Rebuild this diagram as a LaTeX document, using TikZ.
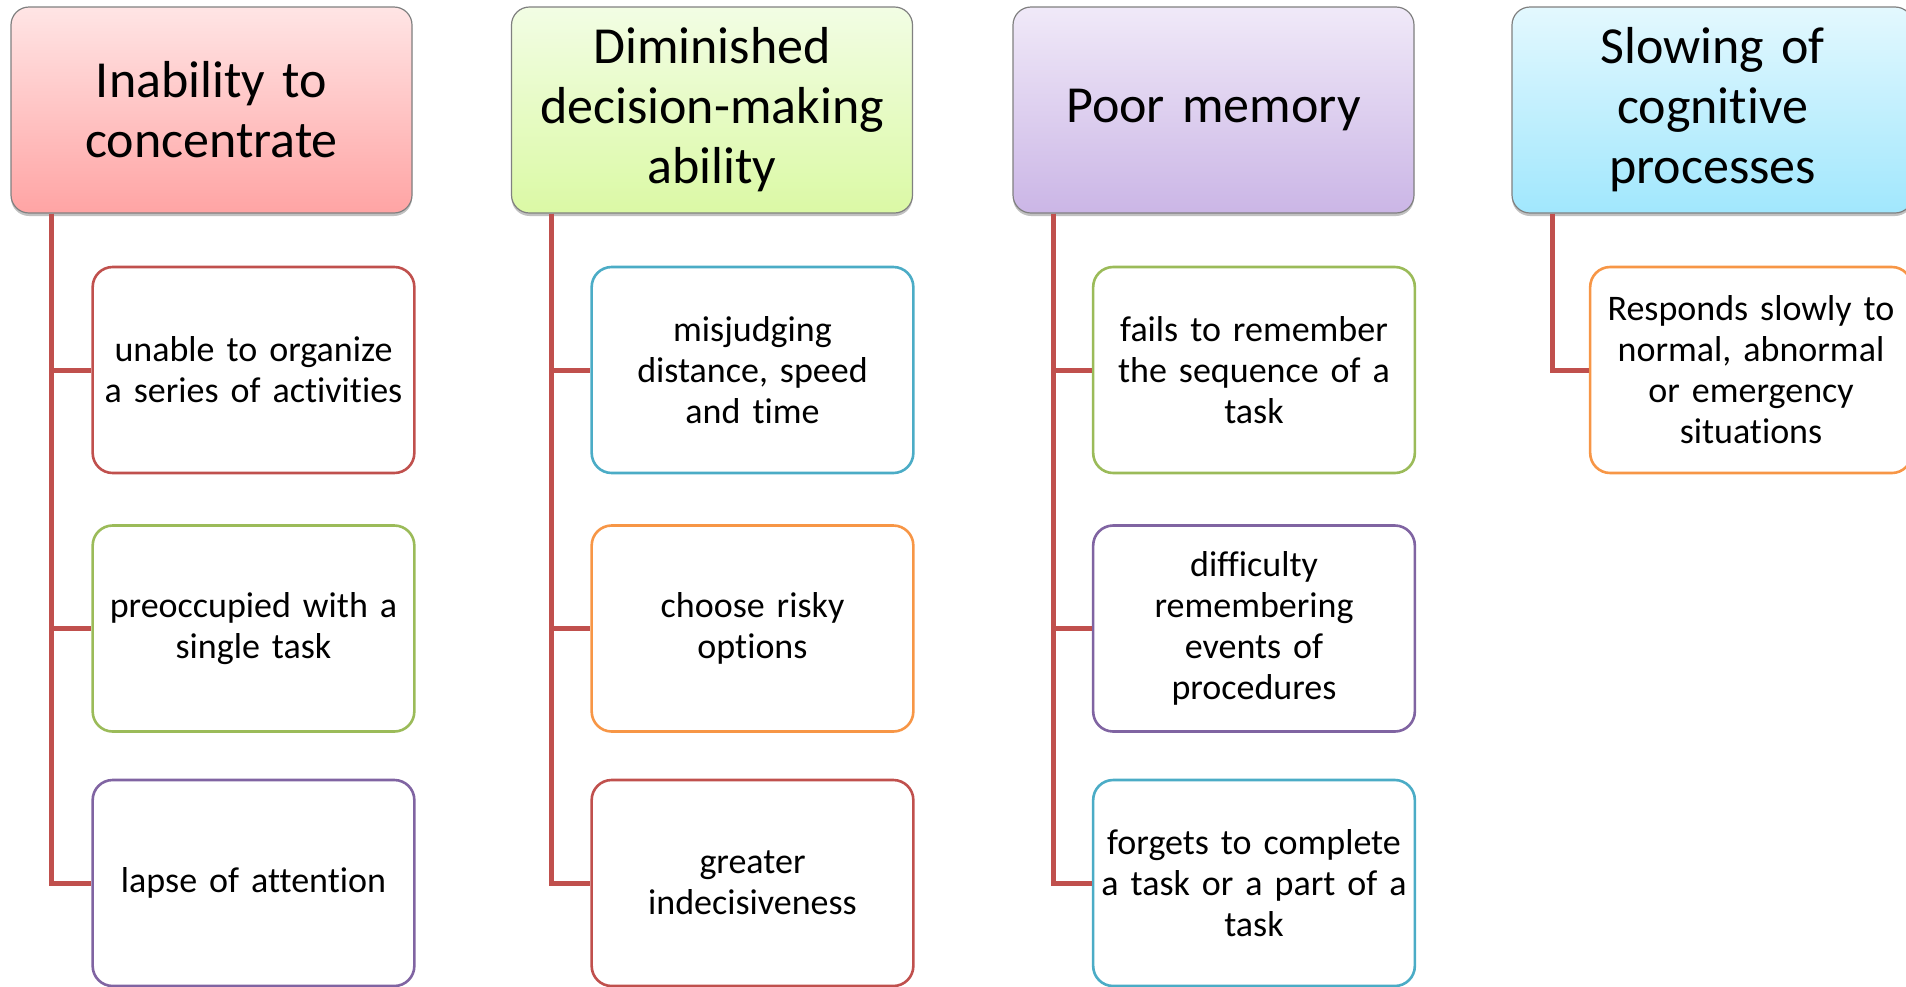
\documentclass[tikz,border=0pt]{standalone}
\usepackage{fontspec}
\setmainfont{Carlito}[Ligatures=NoCommon]
\usetikzlibrary{shadows}
\definecolor{ored}{HTML}{C0504D}
\definecolor{ogreen}{HTML}{9BBB59}
\definecolor{opurple}{HTML}{8064A2}
\definecolor{oblue}{HTML}{4BACC6}
\definecolor{oorange}{HTML}{F79646}
\definecolor{frame}{HTML}{808080}
\definecolor{pinkT}{RGB}{255,229,229}
\definecolor{pinkB}{RGB}{255,164,164}
\definecolor{limeT}{RGB}{242,253,228}
\definecolor{limeB}{RGB}{219,249,165}
\definecolor{lilacT}{RGB}{240,233,248}
\definecolor{lilacB}{RGB}{203,182,230}
\definecolor{skyT}{RGB}{227,248,254}
\definecolor{skyB}{RGB}{161,231,253}
\tikzset{
  x=1pt, y=1pt,
  head/.style 2 args={draw=frame, line width=1.2pt, rounded corners=18pt,
    top color=#1, bottom color=#2,
    minimum width=401pt, minimum height=206pt, text width=390pt, align=center,
    font=\fontsize{52}{60}\selectfont,
    drop shadow={shadow xshift=0pt, shadow yshift=-3pt, opacity=0.35, fill=black!70}},
  leaf/.style={draw=#1, line width=2.6pt, rounded corners=20pt, fill=white,
    minimum width=321pt, minimum height=206pt, text width=315pt, align=center,
    font=\fontsize{36}{41}\selectfont},
  conn/.style={draw=ored, line width=5pt},
}
\begin{document}
\begin{tikzpicture}
\useasboundingbox (0,0) rectangle (1906,-986);

% category headers
\node[head={pinkT}{pinkB}]   (h1) at (211.5,-110) {Inability to\\concentrate};
\node[head={limeT}{limeB}]   (h2) at (712,-110)   {Diminished\\decision-making\\ability};
\node[head={lilacT}{lilacB}] (h3) at (1213.5,-110) {Poor memory};
\node[head={skyT}{skyB}]     (h4) at (1712.5,-110) {Slowing of\\cognitive\\processes};

% items, column 1
\node[leaf=ored]    (a1) at (253.5,-370)   {unable to organize\\a series of activities};
\node[leaf=ogreen]  (a2) at (253.5,-628.5) {preoccupied with a\\single task};
\node[leaf=opurple] (a3) at (253.5,-883)   {lapse of attention};

% items, column 2
\node[leaf=oblue]   (b1) at (752.5,-370)   {misjudging\\distance, speed\\and time};
\node[leaf=oorange] (b2) at (752.5,-628.5) {choose risky\\options};
\node[leaf=ored]    (b3) at (752.5,-883)   {greater\\indecisiveness};

% items, column 3
\node[leaf=ogreen]  (c1) at (1254,-370)   {fails to remember\\the sequence of a\\task};
\node[leaf=opurple] (c2) at (1254,-628.5) {difficulty\\remembering\\events of\\procedures};
\node[leaf=oblue]   (c3) at (1254,-883)   {forgets to complete\\a task or a part of a\\task};

% item, column 4
\node[leaf=oorange] (d1) at (1751,-370) {Responds slowly to\\normal, abnormal\\or emergency\\situations};

% tree connectors
\foreach \h/\kids in {h1/{a1,a2,a3}, h2/{b1,b2,b3}, h3/{c1,c2,c3}, h4/{d1}}{
  \foreach \k in \kids {
    \draw[conn] ([xshift=41pt]\h.south west) |- (\k.west);
  }
}
\end{tikzpicture}
\end{document}
